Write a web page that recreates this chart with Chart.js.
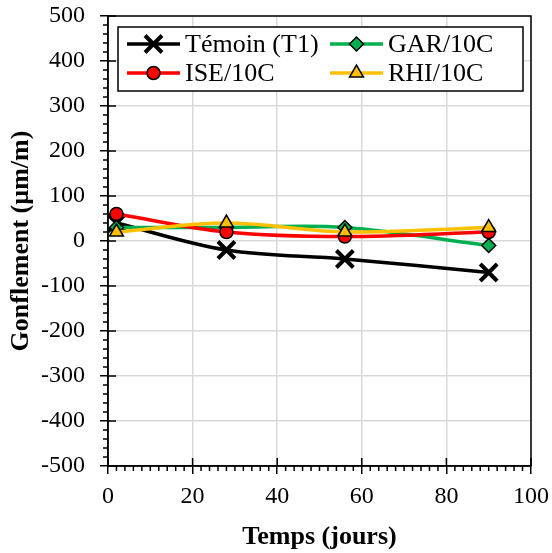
<!DOCTYPE html>
<html lang="fr">
<head>
  <meta charset="UTF-8">
  <title>Gonflement</title>
  <script src="https://cdn.jsdelivr.net/npm/chart.js@4"></script>
  <style>
    * { margin: 0; padding: 0; }
    body { background: #fff; }
    canvas { display: block; }
  </style>
</head>
<body>
  <canvas id="chart" width="552" height="553"></canvas>
  <script>
    // days of measurement
    const jours = [2, 28, 56, 90];

    // swelling, µm/m
    const temoin = [40, -20, -40, -70];
    const gar = [30, 30, 30, -10];
    const ise = [60, 20, 10, 20];
    const rhi = [20, 40, 20, 30];

    const SERIF = "'Liberation Serif', 'Times New Roman', serif";

    const pts = vals => vals.map((v, i) => ({ x: jours[i], y: v }));

    const datasets = [
      { label: 'Témoin (T1)', data: pts(temoin), borderColor: '#000', backgroundColor: '#000',
        pointStyle: 'crossRot', pointRadius: 12, pointBorderWidth: 4, order: 4 },
      { label: 'GAR/10C', data: pts(gar), borderColor: '#00b050', backgroundColor: '#00b050',
        pointStyle: 'rectRot', pointRadius: 7, order: 3 },
      { label: 'ISE/10C', data: pts(ise), borderColor: '#ff0000', backgroundColor: '#ff0000',
        pointStyle: 'circle', pointRadius: 6.5, order: 2 },
      { label: 'RHI/10C', data: pts(rhi), borderColor: '#ffc000', backgroundColor: '#ffc000',
        pointStyle: 'triangle', pointRadius: 8, order: 1 },
    ].map(ds => ({
      ...ds,
      borderWidth: 3.5,
      tension: 0.35,
      pointBorderColor: '#000',
      pointBorderWidth: ds.pointBorderWidth || 1.5,
    }));

    // frame + minor ticks + inner half of major ticks
    const axisDecor = {
      id: 'axisDecor',
      beforeDatasetsDraw(chart) {
        const { ctx, chartArea: a, scales: { x, y } } = chart;
        ctx.save();
        ctx.strokeStyle = '#000';
        ctx.lineWidth = 1.5;
        ctx.strokeRect(a.left, a.top, a.right - a.left, a.bottom - a.top);
        ctx.beginPath();
        for (let v = -500; v <= 500; v += 20) {
          const py = y.getPixelForValue(v);
          if (v % 100 === 0) { ctx.moveTo(a.left, py); ctx.lineTo(a.left + 8, py); }
          else { ctx.moveTo(a.left - 5, py); ctx.lineTo(a.left, py); }
        }
        for (let v = 0; v <= 100; v += 2) {
          const px = x.getPixelForValue(v);
          if (v % 20 === 0) { ctx.moveTo(px, a.bottom); ctx.lineTo(px, a.bottom - 8); }
          else { ctx.moveTo(px, a.bottom); ctx.lineTo(px, a.bottom + 5); }
        }
        ctx.stroke();
        ctx.restore();
      }
    };

    // two-column boxed legend inside the plot
    const boxLegend = {
      id: 'boxLegend',
      afterDatasetsDraw(chart) {
        const { ctx } = chart;
        const box = { left: 118, top: 27, right: 523, bottom: 91 };
        const cols = [127, 330];
        const rows = [44, 73];
        ctx.save();
        ctx.fillStyle = '#fff';
        ctx.fillRect(box.left, box.top, box.right - box.left, box.bottom - box.top);
        ctx.strokeStyle = '#000';
        ctx.lineWidth = 1.5;
        ctx.strokeRect(box.left, box.top, box.right - box.left, box.bottom - box.top);
        ctx.font = '26px ' + SERIF;
        ctx.textBaseline = 'middle';
        chart.data.datasets.forEach((ds, i) => {
          const x0 = cols[i % 2];
          const yc = rows[Math.floor(i / 2)];
          ctx.strokeStyle = ds.borderColor;
          ctx.lineWidth = ds.borderWidth;
          ctx.beginPath();
          ctx.moveTo(x0, yc);
          ctx.lineTo(x0 + 53, yc);
          ctx.stroke();
          ctx.fillStyle = ds.backgroundColor;
          ctx.strokeStyle = ds.pointBorderColor;
          ctx.lineWidth = ds.pointBorderWidth;
          Chart.helpers.drawPoint(ctx, {
            pointStyle: ds.pointStyle, radius: ds.pointRadius, rotation: 0, borderWidth: ds.pointBorderWidth
          }, x0 + 26.5, yc);
          ctx.fillStyle = '#000';
          ctx.fillText(ds.label, x0 + 58, yc + 1);
        });
        ctx.restore();
      }
    };

    // drop the label overhang padding so the plot box sits where we want it
    const noOverhang = scale => {
      scale.paddingTop = 0; scale.paddingBottom = 0;
      scale.paddingLeft = 0; scale.paddingRight = 0;
    };

    new Chart(document.getElementById('chart'), {
      type: 'line',
      data: { datasets },
      plugins: [axisDecor, boxLegend],
      options: {
        responsive: false,
        animation: false,
        layout: { padding: { left: 0, right: 21, top: 16, bottom: 0 } },
        plugins: { legend: { display: false }, tooltip: { enabled: false } },
        scales: {
          x: {
            type: 'linear', min: 0, max: 100,
            afterFit(scale) { scale.height = 87; noOverhang(scale); },
            ticks: { stepSize: 20, color: '#000', padding: 8, maxRotation: 0,
                     font: { family: SERIF, size: 24 } },
            grid: { color: '#d9d9d9', lineWidth: 1.5, tickColor: '#000', tickWidth: 1.5, tickLength: 8 },
            border: { color: '#000', width: 1.5 },
            title: { display: true, text: 'Temps (jours)', color: '#000', padding: { top: 0, bottom: 0 },
                     font: { family: SERIF, size: 26, weight: 'bold' } }
          },
          y: {
            min: -500, max: 500,
            afterFit(scale) { scale.width = 108; noOverhang(scale); },
            ticks: { stepSize: 100, color: '#000', padding: 15,
                     font: { family: SERIF, size: 24 } },
            grid: { color: '#d9d9d9', lineWidth: 1.5, tickColor: '#000', tickWidth: 1.5, tickLength: 8 },
            border: { color: '#000', width: 1.5 },
            title: { display: true, text: 'Gonflement (µm/m)', color: '#000', padding: { top: 6, bottom: 0 },
                     font: { family: SERIF, size: 26, weight: 'bold' } }
          }
        }
      }
    });
  </script>
</body>
</html>
